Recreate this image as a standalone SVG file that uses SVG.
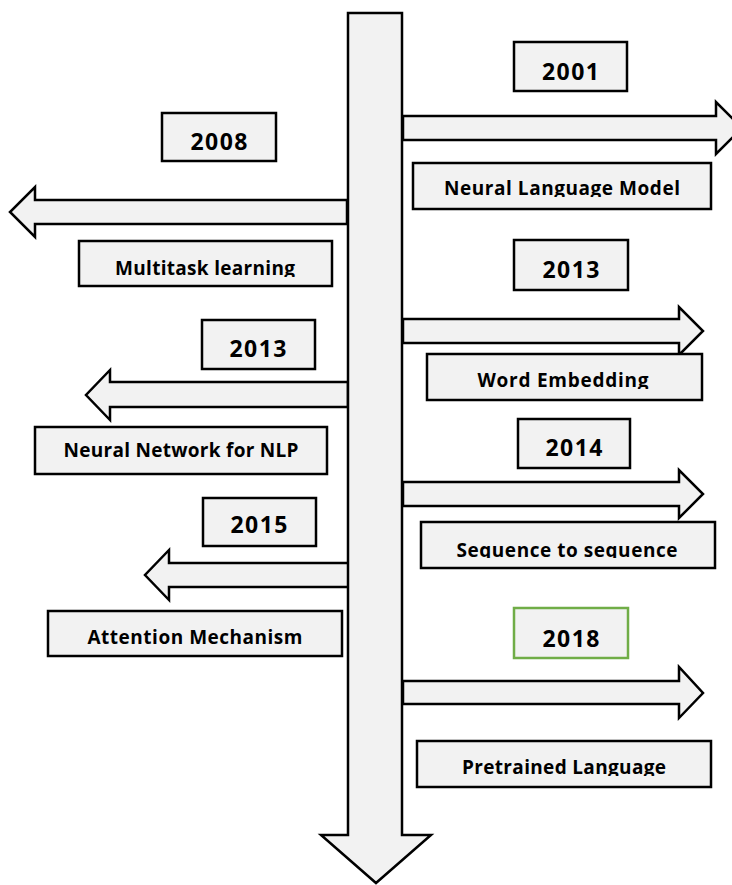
<svg xmlns="http://www.w3.org/2000/svg" width="732" height="885" viewBox="0 0 732 885">
<style>
.shape{fill:#F2F2F2;stroke:#000;stroke-width:2.5;stroke-linejoin:miter}
.box{fill:#F2F2F2;stroke:#000;stroke-width:2.5}
.green{stroke:#70AD47}
.yr{font-family:"Open Sans","Liberation Sans",Arial,sans-serif;font-weight:bold;font-size:23px;fill:#000;text-anchor:middle}
.lb{font-family:"Open Sans","Liberation Sans",Arial,sans-serif;font-weight:bold;font-size:19px;fill:#000;text-anchor:middle}
</style>
<defs>
<clipPath id="c1"><rect x="413" y="163" width="298" height="34"/></clipPath>
<clipPath id="c2"><rect x="79" y="241" width="253" height="36"/></clipPath>
<clipPath id="c3"><rect x="427" y="354" width="275" height="35"/></clipPath>
<clipPath id="c4"><rect x="421" y="522" width="294" height="36"/></clipPath>
<clipPath id="c5"><rect x="417" y="741" width="294" height="35"/></clipPath>
</defs>
<rect width="732" height="885" fill="#fff"/>
<g id="connectors">
<path class="shape" d="M403,116 H716 V102 L742,128 L716,154 V140 H403 Z"/>
<path class="shape" d="M347,200 H35 V187 L10,212 L35,237 V224 H347 Z"/>
<path class="shape" d="M403,319 H679 V307 L703,331 L679,355 V343 H403 Z"/>
<path class="shape" d="M348,382 H110 V370 L86,395 L110,420 V407 H348 Z"/>
<path class="shape" d="M403,482 H679 V470 L703,494 L679,518 V506 H403 Z"/>
<path class="shape" d="M349,563 H169 V550 L145,575 L169,600 V587 H349 Z"/>
<path class="shape" d="M403,681 H679 V667 L703,693 L679,718 V704 H403 Z"/>
<path id="timeline" class="shape" d="M348,13 H402 V835 H431 L376,883 L321,835 H348 Z"/>
</g>
<g id="y2001"><rect class="box" x="514" y="42" width="113" height="49"/><text class="yr" x="570.5" y="80" textLength="57">2001</text></g>
<g id="nlm"><rect class="box" x="413" y="163" width="298" height="46"/><text class="lb" x="562" y="195" textLength="236" clip-path="url(#c1)">Neural Language Model</text></g>
<g id="y2008"><rect class="box" x="162" y="113" width="114" height="48"/><text class="yr" x="219" y="150" textLength="57">2008</text></g>
<g id="mtl"><rect class="box" x="79" y="241" width="253" height="45"/><text class="lb" x="205" y="275" textLength="180" clip-path="url(#c2)">Multitask learning</text></g>
<g id="y2013r"><rect class="box" x="514" y="240" width="114" height="50"/><text class="yr" x="571" y="278" textLength="57">2013</text></g>
<g id="we"><rect class="box" x="427" y="354" width="275" height="46"/><text class="lb" x="563" y="387" textLength="171" clip-path="url(#c3)">Word Embedding</text></g>
<g id="y2013l"><rect class="box" x="202" y="320" width="113" height="49"/><text class="yr" x="258" y="357" textLength="57">2013</text></g>
<g id="nnnlp"><rect class="box" x="35" y="427" width="292" height="47"/><text class="lb" x="181" y="457" textLength="235">Neural Network for NLP</text></g>
<g id="y2014"><rect class="box" x="518" y="419" width="112" height="49"/><text class="yr" x="574" y="456" textLength="57">2014</text></g>
<g id="s2s"><rect class="box" x="421" y="522" width="294" height="46"/><text class="lb" x="567" y="557" textLength="221" clip-path="url(#c4)">Sequence to sequence</text></g>
<g id="y2015"><rect class="box" x="203" y="498" width="113" height="48"/><text class="yr" x="259" y="533" textLength="57">2015</text></g>
<g id="att"><rect class="box" x="48" y="611" width="294" height="45"/><text class="lb" x="195" y="644" textLength="215">Attention Mechanism</text></g>
<g id="y2018"><rect class="box green" x="514" y="608" width="114" height="50"/><text class="yr" x="571" y="647" textLength="57">2018</text></g>
<g id="plm"><rect class="box" x="417" y="741" width="294" height="46"/><text class="lb" x="564" y="774" textLength="204" clip-path="url(#c5)">Pretrained Language</text></g>
</svg>
